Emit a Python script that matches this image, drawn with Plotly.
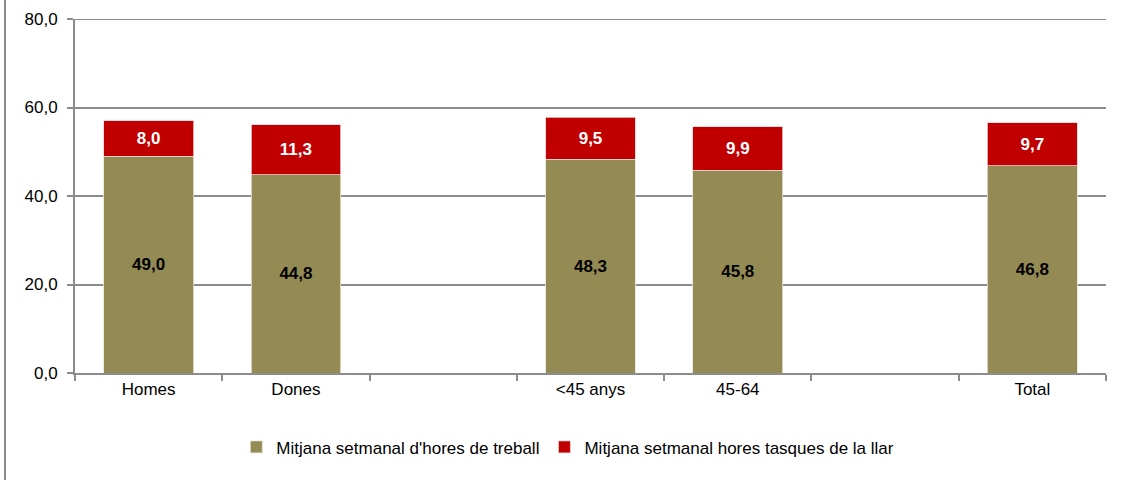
import plotly.graph_objects as go

categories = ["Homes", "Dones", " ", "<45 anys", "45-64", "  ", "Total"]
treball = [49.0, 44.8, None, 48.3, 45.8, None, 46.8]
llar = [8.0, 11.3, None, 9.5, 9.9, None, 9.7]
y_ticks = [0, 20, 40, 60, 80]

FONT = "Liberation Sans Narrow, Arial Narrow, Liberation Sans, Arial, sans-serif"
OLIVE = "#948A54"
RED = "#C00000"
GRID = "#8C8C8C"

def fmt(v):
    return "" if v is None else f"{v:.1f}".replace(".", ",")

fig = go.Figure()
fig.add_trace(go.Bar(
    x=categories, y=treball, name="Mitjana setmanal d'hores de treball",
    marker=dict(color=OLIVE, line=dict(color="#E8E4D8", width=0.8)),
    text=[fmt(v) for v in treball], textposition="inside", insidetextanchor="middle",
    textfont=dict(family=FONT, size=17, color="black", weight="bold"),
    hoverinfo="skip",
))
fig.add_trace(go.Bar(
    x=categories, y=llar, name="Mitjana setmanal hores tasques de la llar",
    marker=dict(color=RED, line=dict(color="#F0D0D0", width=0.8)),
    text=[fmt(v) for v in llar], textposition="inside", insidetextanchor="middle",
    textfont=dict(family=FONT, size=17, color="white", weight="bold"),
    hoverinfo="skip",
))

fig.update_layout(
    barmode="stack",
    bargap=0.39,
    width=1129, height=480,
    margin=dict(l=75, r=23, t=19, b=107, autoexpand=False),
    paper_bgcolor="white", plot_bgcolor="white",
    font=dict(family=FONT, size=17, color="black"),
    separators=",.",
    showlegend=True,
    legend=dict(orientation="h", x=0.478, xanchor="center", y=-0.21, yanchor="middle",
                traceorder="normal",
                font=dict(family=FONT, size=17, color="black"),
                itemwidth=30),
    xaxis=dict(
        type="category", tickson="boundaries", ticks="outside", ticklen=6,
        tickcolor=GRID, tickwidth=2, showline=True, linecolor=GRID, linewidth=2,
        showgrid=False, automargin=False, tickfont=dict(family=FONT, size=17, color="black"),
    ),
    yaxis=dict(
        range=[y_ticks[0], y_ticks[-1]], tickvals=y_ticks, tickformat=".1f", ticks="outside", ticklen=6,
        tickcolor=GRID, tickwidth=2, showline=True, linecolor=GRID, linewidth=2,
        showgrid=True, gridcolor=GRID, gridwidth=2, zeroline=False, automargin=False,
        ticklabelstandoff=6,
        tickfont=dict(family=FONT, size=17, color="black"),
    ),
    shapes=[
        dict(type="line", xref="paper", yref="paper", x0=-0.0679, x1=-0.0679,
             y0=-0.305, y1=1.06, line=dict(color=GRID, width=2)),
        dict(type="line", xref="paper", yref="y", x0=0, x1=1,
             y0=y_ticks[-1], y1=y_ticks[-1], line=dict(color=GRID, width=2)),
    ],
)

fig.write_html("out.html",
               config={"displayModeBar": False},
               post_script="document.body.style.margin='0';document.body.style.overflow='hidden';")
